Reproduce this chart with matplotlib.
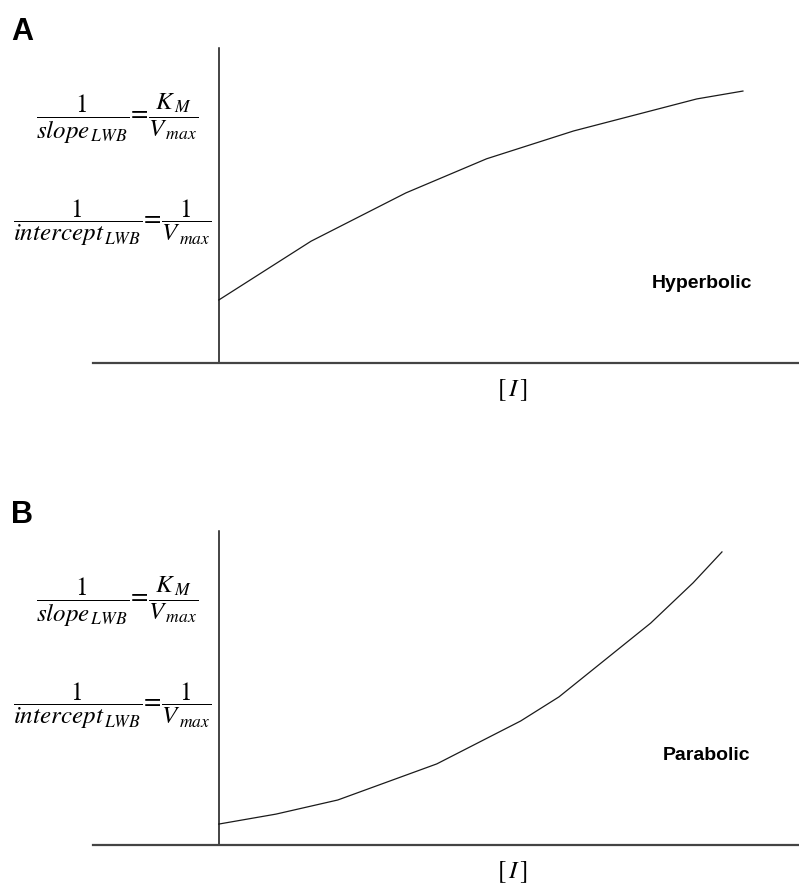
import matplotlib
matplotlib.use("Agg")
import matplotlib.pyplot as plt

plt.rcParams["mathtext.fontset"] = "stix"

# Reciprocal Lineweaver-Burk parameter vs. inhibitor concentration [I]
hyper_I = [0.0, 1.76, 3.57, 5.11, 6.77, 9.12, 10.0]
hyper_y = [1.20, 2.32, 3.24, 3.89, 4.42, 5.03, 5.18]

parab_I = [0.0, 1.09, 2.27, 4.16, 5.76, 6.49, 8.24, 9.05, 9.60]
parab_y = [0.40, 0.59, 0.86, 1.55, 2.37, 2.83, 4.24, 5.01, 5.60]

panel_letters = ["A", "B"]
curve_names = ["Hyperbolic", "Parabolic"]
eq_slope = r"$\dfrac{1}{slope_{\,LWB}}\!=\!\dfrac{K_{\,M}}{V_{\,max}}$"
eq_icpt = r"$\dfrac{1}{intercept_{\,LWB}}\!=\!\dfrac{1}{V_{\,max}}$"
xlabel = r"$\left[\,I\,\right]$"

W, H = 799, 890
fig = plt.figure(figsize=(W / 100, H / 100), dpi=100)


def fx(px):
    return px / W


def fy(py):
    return 1 - py / H


panels = [
    dict(top=48, bottom=363, x=hyper_I, y=hyper_y, name_pos=(702, 283)),
    dict(top=531, bottom=845, x=parab_I, y=parab_y, name_pos=(707, 756)),
]

for i, p in enumerate(panels):
    ax = fig.add_axes([fx(93), fy(p["bottom"]), 1 - fx(93),
                       (p["bottom"] - p["top"]) / H])
    ax.set_xlim(-2.40, 11.07)
    ax.set_ylim(0, 6)
    ax.plot(p["x"], p["y"], color="#1a1a1a", lw=0.9, solid_joinstyle="round")
    for s in ("top", "right"):
        ax.spines[s].set_visible(False)
    ax.spines["left"].set_position(("data", 0))
    ax.spines["left"].set_color("#111111")
    ax.spines["left"].set_linewidth(1.1)
    ax.spines["bottom"].set_color("#444444")
    ax.spines["bottom"].set_linewidth(1.6)
    ax.set_xticks([])
    ax.set_yticks([])
    ax.patch.set_alpha(0)

    off = p["top"] - 48
    fig.text(fx(11), fy(32 + off), panel_letters[i], fontsize=22,
             fontweight="bold", family="Liberation Sans", va="center",
             ha="left")
    fig.text(fx(117), fy(119 + off), eq_slope, fontsize=18, ha="center",
             va="center")
    fig.text(fx(112), fy(223 + off), eq_icpt, fontsize=18, ha="center",
             va="center")
    fig.text(fx(p["name_pos"][0]), fy(p["name_pos"][1]), curve_names[i],
             fontsize=14, fontweight="bold", family="Liberation Sans",
             ha="center", va="center")
    fig.text(fx(512), fy(p["bottom"] + 27), xlabel, fontsize=18,
             ha="center", va="center")

fig.savefig("out.png", dpi=100)
